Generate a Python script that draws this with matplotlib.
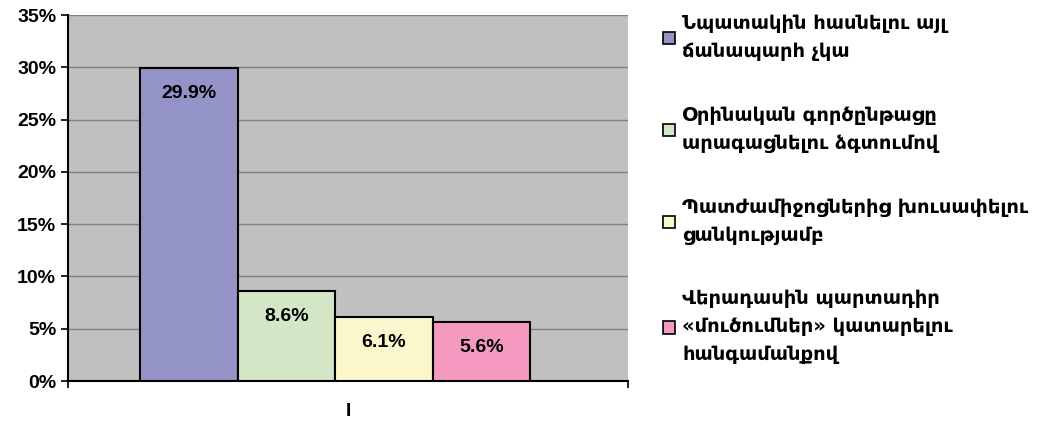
import matplotlib
matplotlib.use('agg')
import matplotlib.pyplot as plt
from matplotlib.ticker import PercentFormatter

labels = [
    'Նպատակին հասնելու այլ\nճանապարհ չկա',
    'Օրինական գործընթացը\nարագացնելու ձգտումով',
    'Պատժամիջոցներից խուսափելու\nցանկությամբ',
    'Վերադասին պարտադիր\n«մուծումներ» կատարելու\nհանգամանքով',
]
values = [29.9, 8.6, 6.1, 5.6]
colors = ['#9393C8', '#D3E6C6', '#FAF7CD', '#F49AC1']
category = ['I']

plt.rcParams['font.family'] = ['Liberation Sans', 'DejaVu Sans']
plt.rcParams['font.weight'] = 'bold'

fig = plt.figure(figsize=(10.4, 4.21), dpi=100)
ax = fig.add_axes([68 / 1040, 1 - 381 / 421, 560 / 1040, 366 / 421])
ax.set_facecolor('#C0C0C0')

# group sits a bit left of the category centre, like the original
w = 0.174
shift = -0.023
bars = []
for i, (v, c) in enumerate(zip(values, colors)):
    x = shift + (i - 1.5) * w
    b = ax.bar(x, v, width=w, color=c, edgecolor='black', linewidth=1.5, zorder=3)
    bars.append(b)
    ax.annotate(f'{v}%', (x, v), xytext=(0, -18), textcoords='offset points',
                ha='center', va='center', fontsize=14, fontweight='bold', zorder=4)

ax.set_xlim(-0.5, 0.5)
ax.set_ylim(0, 35)
ax.set_yticks(range(0, 36, 5))
ax.yaxis.set_major_formatter(PercentFormatter(decimals=0))
ax.set_xticks([0])
ax.set_xticklabels(category)
ax.set_xticks([-0.5, 0.5], minor=True)
ax.tick_params(axis='x', which='major', length=0, pad=16, labelsize=14)
ax.tick_params(axis='x', which='minor', length=5, width=1.2)
ax.tick_params(axis='y', length=5, width=1.2, labelsize=14)
ax.yaxis.grid(True, color='#808080', linewidth=1, zorder=0)
ax.set_axisbelow(True)
for s in ['top', 'right']:
    ax.spines[s].set_visible(False)
ax.spines['left'].set_linewidth(1.5)
ax.spines['bottom'].set_linewidth(1.5)

leg = fig.legend([b[0] for b in bars], labels, loc='upper left',
                 bbox_to_anchor=(663 / 1040, 1 - 14 / 421), frameon=False,
                 borderpad=0, borderaxespad=0,
                 prop={'family': 'DejaVu Sans', 'weight': 'bold', 'size': 14},
                 handlelength=0.6, handleheight=0.6, handletextpad=0.4,
                 labelspacing=2.3)
for t in leg.get_texts():
    t.set_linespacing(1.6)
for h in leg.legend_handles:
    h.set_linewidth(1.2)

fig.savefig('out.png', dpi=100)
